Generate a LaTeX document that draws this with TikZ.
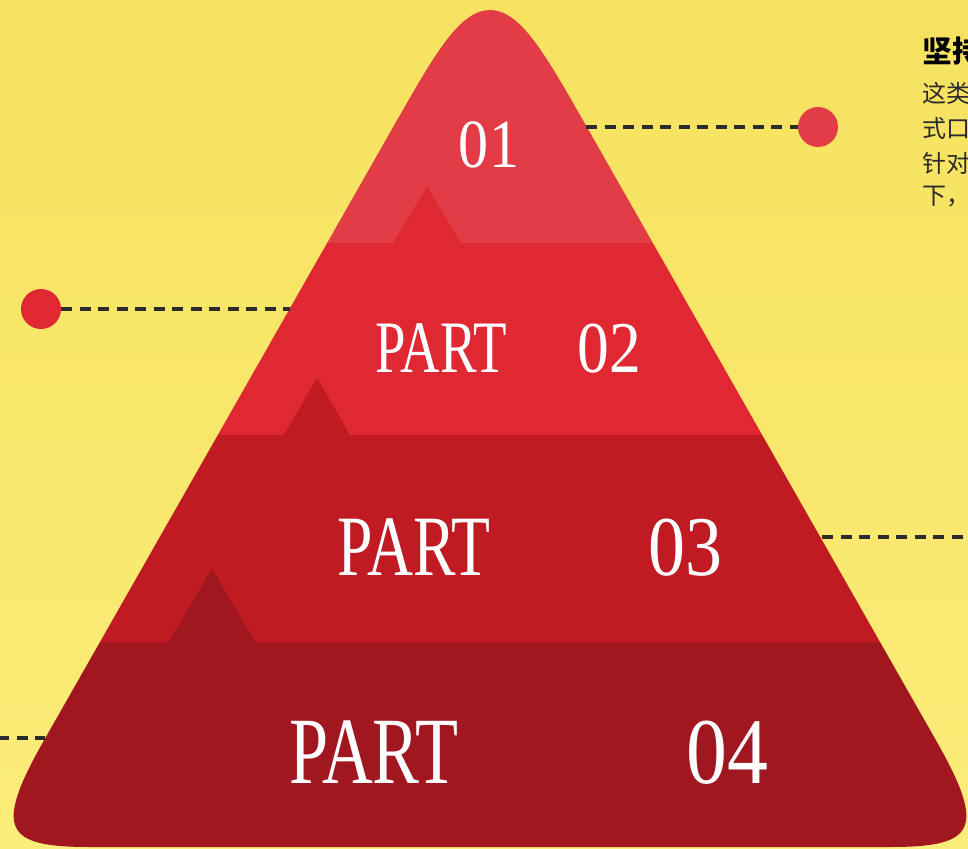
\documentclass[tikz,border=0pt]{standalone}
\usepackage{fontspec}
\setmainfont{Liberation Serif}
\newfontfamily\capsfont[FakeStretch=0.74]{Liberation Serif}
\newfontfamily\digitfont[FakeStretch=0.87]{Liberation Serif}
\newfontfamily\cjk{Noto Sans CJK SC}
\definecolor{bgtop}{HTML}{F6E25F}
\definecolor{bgbot}{HTML}{FCEC79}
\definecolor{bandA}{HTML}{E23C46}
\definecolor{bandB}{HTML}{E02832}
\definecolor{bandC}{HTML}{C01B23}
\definecolor{bandD}{HTML}{A1171F}
\definecolor{dashgray}{HTML}{2B2B2B}
\definecolor{bodygray}{HTML}{2A2A2A}
\tikzset{
  dashline/.style={draw=dashgray, line width=3.2pt, dash pattern=on 11pt off 7.5pt},
  dot/.style={circle, inner sep=0pt, minimum size=40pt},
  parttext/.style={text=white, inner sep=0pt, anchor=base, font=\capsfont},
  numtext/.style={text=white, inner sep=0pt, anchor=base, font=\digitfont},
  heading/.style={inner sep=0pt, anchor=west, font=\cjk\bfseries\fontsize{30}{32}\selectfont, text=black},
  bodyline/.style={inner sep=0pt, anchor=west, font=\cjk\fontsize{24}{26}\selectfont, text=bodygray}
}
\begin{document}
\begin{tikzpicture}[x=1pt,y=-1pt]
\useasboundingbox (0,0) rectangle (968,848);
\clip (0,0) rectangle (968,848);
% background
\shade[top color=bgtop, bottom color=bgbot] (0,0) rectangle (968,848);
% pyramid
\begin{scope}
\clip (490,10) .. controls (460,10) and (435,54) .. (400,115)
  -- (44.2,740) .. controls (-7.1,830) and (5,847) .. (90,847)
  -- (890,847) .. controls (975,847) and (987.1,830) .. (935.8,740)
  -- (580,115) .. controls (545,54) and (520,10) .. (490,10) -- cycle;
\fill[bandA] (0,0) rectangle (968,243);
\fill[bandB] (0,243) rectangle (968,435);
\fill[bandC] (0,435) rectangle (968,642);
\fill[bandD] (0,642) rectangle (968,848);
\fill[bandB] (393,243) -- (427,187) -- (461,243) -- cycle;
\fill[bandC] (284,435) -- (317,378) -- (350,435) -- cycle;
\fill[bandD] (169,642) -- (212,568) -- (255,642) -- cycle;
\end{scope}
% texts in pyramid
\node[numtext, font=\digitfont\fontsize{69}{69}\selectfont] (n1) at (489,167) {01};
\node[parttext, font=\capsfont\fontsize{74}{74}\selectfont] (p2) at (441,372) {PART};
\node[numtext, font=\digitfont\fontsize{73}{73}\selectfont] (n2) at (609,372) {02};
\node[parttext, font=\capsfont\fontsize{86}{86}\selectfont] (p3) at (414,575) {PART};
\node[numtext, font=\digitfont\fontsize{85}{85}\selectfont] (n3) at (685,575) {03};
\node[parttext, font=\capsfont\fontsize{95}{95}\selectfont] (p4) at (374,783) {PART};
\node[numtext, font=\digitfont\fontsize{94}{94}\selectfont] (n4) at (727,783) {04};
% dots and connectors
\node[dot, fill=bandA] (d1) at (818,127) {};
\node[dot, fill=bandB] (d2) at (41,309) {};
\coordinate (e1) at (586,127);
\coordinate (e2) at (290,309);
\coordinate (e3) at (822,537);
\coordinate (f3) at (975,537);
\coordinate (e4) at (45,738);
\coordinate (f4) at (-2,738);
\draw[dashline] (e1) -- (d1.west);
\draw[dashline] (d2.east) -- (e2);
\draw[dashline] (e3) -- (f3);
\draw[dashline] (f4) -- (e4);
% right text (cropped by the picture edge)
\node[heading] (h1) at (922,51) {坚持};
\node[bodyline] (b1) at (922,93) {这类};
\node[bodyline] (b2) at (922,128) {式口};
\node[bodyline] (b3) at (922,163) {针对};
\node[bodyline] (b4) at (922,197) {下，};
\end{tikzpicture}
\end{document}
